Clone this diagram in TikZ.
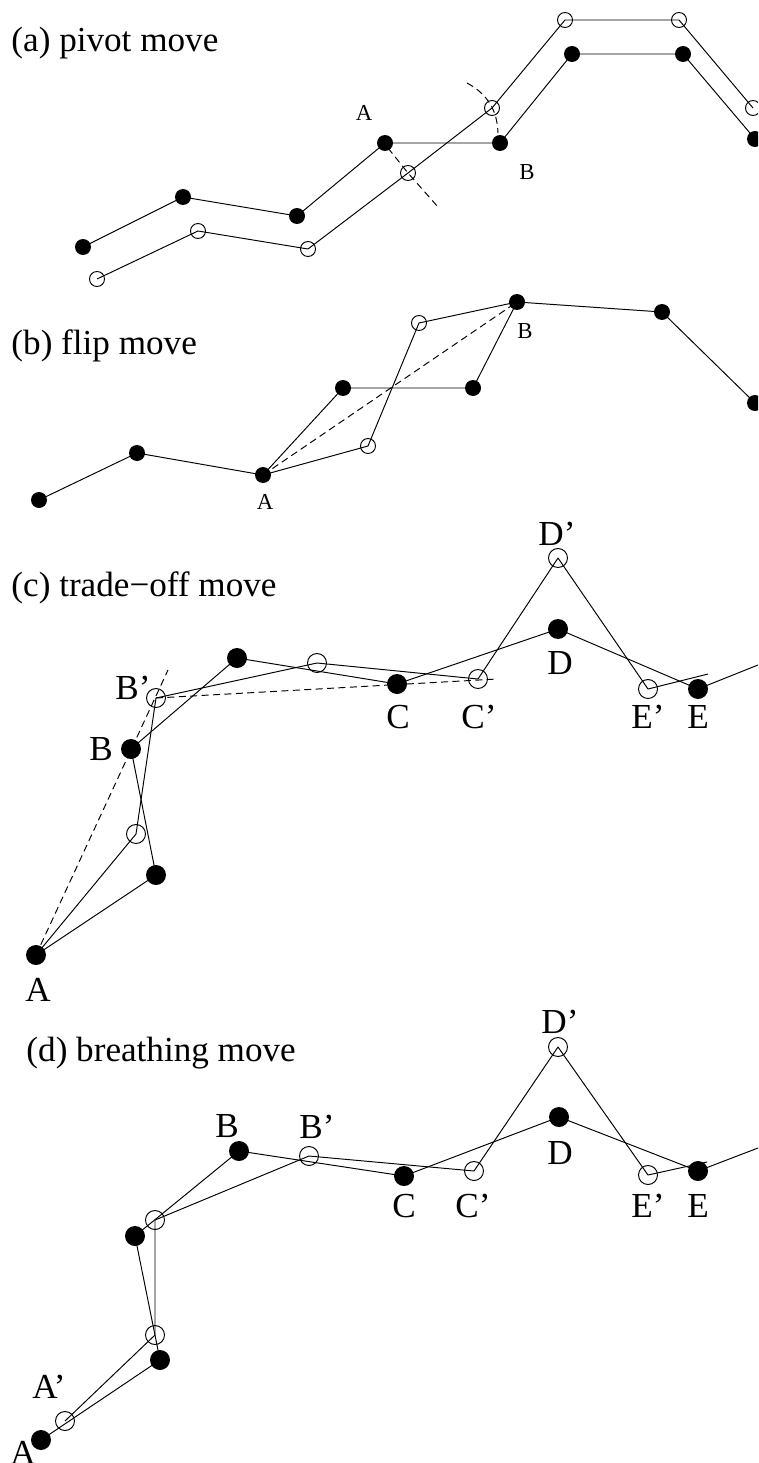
\documentclass[tikz,border=0pt]{standalone}
\usepackage{fontspec}
\setmainfont{Liberation Serif}
\begin{document}
\begin{tikzpicture}[x=0.02cm,y=-0.02cm,line join=round,line width=0.55pt,
	dot/.style={circle,fill=black,inner sep=0pt,minimum size=0.32cm},
	ring/.style={circle,draw,inner sep=0pt,minimum size=0.3cm},
	bigdot/.style={dot,minimum size=0.4cm},
	bigring/.style={ring,minimum size=0.38cm},
	dsh/.style={dash pattern=on 4pt off 2.5pt},
	ttl/.style={inner sep=0pt,anchor=base west,font=\fontsize{20}{24}\selectfont},
	lbl/.style={inner sep=0pt,font=\fontsize{13}{15}\selectfont},
	biglbl/.style={inner sep=0pt,font=\fontsize{20}{24}\selectfont}]
		\useasboundingbox (0,0) rectangle (758,1463);
		\clip (0,0) rectangle (758,1463);
		% (a) pivot
		\node[ttl] (ta) at (11,52) {(a) pivot move};
		\node[dot] (a1) at (83,247) {};
		\node[dot] (a2) at (183,197) {};
		\node[dot] (a3) at (297,216) {};
		\node[dot] (a4) at (385,143) {};
		\node[dot] (a5) at (500,143) {};
		\node[dot] (a6) at (572,54) {};
		\node[dot] (a7) at (683,54) {};
		\node[dot] (a8) at (755,139) {};
		\node[ring] (b1) at (97,279) {};
		\node[ring] (b2) at (198,231) {};
		\node[ring] (b3) at (308,249) {};
		\node[ring] (b4) at (408,173) {};
		\node[ring] (b5) at (492,108) {};
		\node[ring] (b6) at (565,20) {};
		\node[ring] (b7) at (679,20) {};
		\node[ring] (b8) at (753,108) {};
		\draw (a1.center)--(a2.center)--(a3.center)--(a4.center)--(a5.center)--(a6.center)--(a7.center)--(a8.center);
		\draw (b1.center)--(b2.center)--(b3.center)--(b4.center)--(b5.center)--(b6.center)--(b7.center)--(b8.center);
		\coordinate (r1) at (388,148);
		\coordinate (r2) at (438,207);
		\coordinate (r3) at (467,83);
		\coordinate (r4) at (498,133);
		\draw[dsh] (r1)--(b4.center)--(r2);
		\draw[dsh] (r3) to[bend left=30] (r4);
		\node[lbl] (la) at (364,113) {A};
		\node[lbl] (lb) at (527,172) {B};
		% (b) flip
		\node[ttl] (tb) at (11,354) {(b) flip move};
		\node[dot] (c1) at (39,500) {};
		\node[dot] (c2) at (137,453) {};
		\node[dot] (c3) at (263,475) {};
		\node[dot] (c4) at (343,388) {};
		\node[dot] (c5) at (473,388) {};
		\node[dot] (c6) at (517,302) {};
		\node[dot] (c7) at (662,312) {};
		\node[dot] (c8) at (755,403) {};
		\node[ring] (d1) at (368,446) {};
		\node[ring] (d2) at (419,323) {};
		\draw (c1.center)--(c2.center)--(c3.center)--(c4.center)--(c5.center)--(c6.center)--(c7.center)--(c8.center);
		\draw (c3.center)--(d1.center)--(d2.center)--(c6.center);
		\draw[dsh] (c3.center)--(c6.center);
		\node[lbl] (lc) at (265,502) {A};
		\node[lbl] (ld) at (525,331) {B};
		% (c) trade-off
		\node[ttl] (tc) at (11,596) {(c) trade−off move};
		\node[bigdot] (e1) at (36,955) {};
		\node[bigdot] (e2) at (156,875) {};
		\node[bigdot] (e3) at (131,749) {};
		\node[bigdot] (e4) at (237,658) {};
		\node[bigdot] (e5) at (397,684) {};
		\node[bigdot] (e6) at (558,629) {};
		\node[bigdot] (e7) at (698,689) {};
		\coordinate (ee) at (758,665);
		\node[bigring] (f1) at (136,834) {};
		\node[bigring] (f2) at (156,698) {};
		\node[bigring] (f3) at (317,663) {};
		\node[bigring] (f4) at (478,679) {};
		\node[bigring] (f5) at (558,558) {};
		\node[bigring] (f6) at (648,689) {};
		\coordinate (fe) at (708,674);
		\draw (e1.center)--(e2.center)--(e3.center)--(e4.center)--(e5.center)--(e6.center)--(e7.center)--(ee);
		\draw (e1.center)--(f1.center)--(f2.center)--(f3.center)--(f4.center)--(f5.center)--(f6.center)--(fe);
		\coordinate (s1) at (168,670);
		\coordinate (s2) at (497,679);
		\draw[dsh] (e1.center)--(s1);
		\draw[dsh] (f2.center)--(s2);
		\node[biglbl] (le1) at (38,990) {A};
		\node[biglbl] (le3) at (101,749) {B};
		\node[biglbl] (lf2) at (133,688) {B'};
		\node[biglbl] (le5) at (398,717) {C};
		\node[biglbl] (lf4) at (479,717) {C'};
		\node[biglbl] (le6) at (560,663) {D};
		\node[biglbl] (lf5) at (557,534) {D'};
		\node[biglbl] (lf6) at (648,717) {E'};
		\node[biglbl] (le7) at (698,717) {E};
		% (d) breathing
		\node[ttl] (td) at (26,1061) {(d) breathing move};
		\node[bigdot] (g1) at (41,1440) {};
		\node[bigdot] (g2) at (160,1360) {};
		\node[bigdot] (g3) at (135,1236) {};
		\node[bigdot] (g4) at (239,1151) {};
		\node[bigdot] (g5) at (404,1176) {};
		\node[bigdot] (g6) at (559,1117) {};
		\node[bigdot] (g7) at (698,1171) {};
		\coordinate (ge) at (758,1148);
		\node[bigring] (h1) at (65,1421) {};
		\node[bigring] (h2) at (155,1335) {};
		\node[bigring] (h3) at (155,1220) {};
		\node[bigring] (h4) at (309,1156) {};
		\node[bigring] (h5) at (474,1171) {};
		\node[bigring] (h6) at (558,1047) {};
		\node[bigring] (h7) at (648,1175) {};
		\coordinate (he) at (707,1162);
		\draw (g1.center)--(g2.center)--(g3.center)--(g4.center)--(g5.center)--(g6.center)--(g7.center)--(ge);
		\draw (h1.center)--(h2.center)--(h3.center)--(h4.center)--(h5.center)--(h6.center)--(h7.center)--(he);
		\node[biglbl] (lg1) at (23,1453) {A};
		\node[biglbl] (lh1) at (49,1387) {A'};
		\node[biglbl] (lg4) at (227,1126) {B};
		\node[biglbl] (lh4) at (317,1127) {B'};
		\node[biglbl] (lg5) at (404,1206) {C};
		\node[biglbl] (lh5) at (473,1206) {C'};
		\node[biglbl] (lg6) at (560,1153) {D};
		\node[biglbl] (lh6) at (560,1022) {D'};
		\node[biglbl] (lh7) at (648,1206) {E'};
		\node[biglbl] (lg7) at (698,1206) {E};
\end{tikzpicture}
\end{document}
